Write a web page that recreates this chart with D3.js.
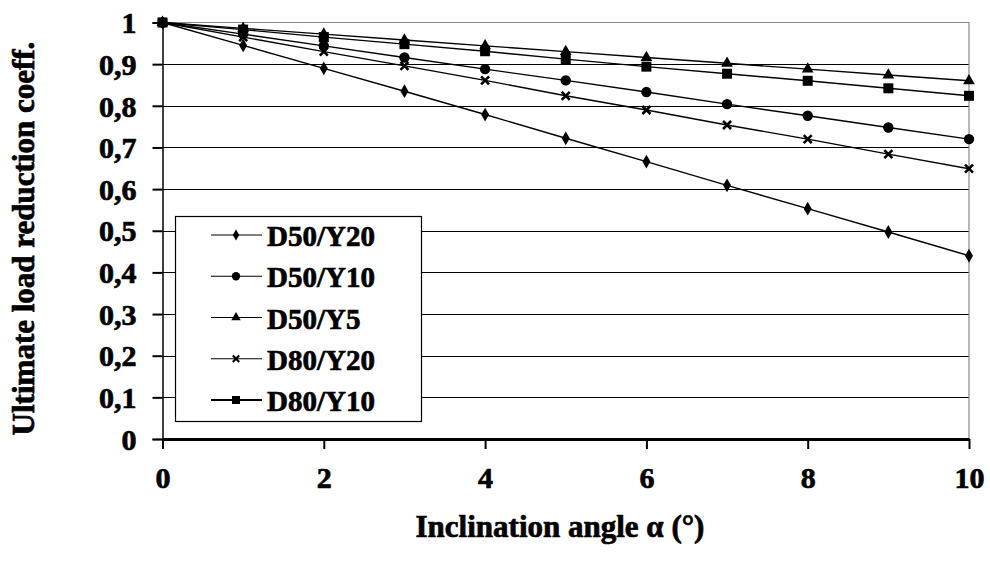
<!DOCTYPE html>
<html>
<head>
<meta charset="utf-8">
<script src="https://cdn.jsdelivr.net/npm/d3@7"></script>
<style>
  body { margin: 0; background: #fff; }
  text { font-family: "Liberation Serif", "Times New Roman", serif; font-weight: bold; fill: #000; stroke: #000; stroke-width: 0.7px; }
</style>
</head>
<body>
<svg id="chart" width="990" height="561"></svg>
<script>
// inclination angle (deg)
const angles = [0, 1, 2, 3, 4, 5, 6, 7, 8, 9, 10];
const seriesNames = ['D50/Y20', 'D50/Y10', 'D50/Y5', 'D80/Y20', 'D80/Y10'];
const seriesSymbols = ['diamond', 'circle', 'triangle', 'cross', 'square'];
const d50y20 = [1, 0.945, 0.89, 0.835, 0.779, 0.722, 0.666, 0.609, 0.553, 0.497, 0.44];
const d50y10 = [1, 0.972, 0.944, 0.916, 0.888, 0.861, 0.833, 0.804, 0.776, 0.748, 0.72];
const d50y5 = [1, 0.986, 0.972, 0.958, 0.944, 0.93, 0.916, 0.902, 0.888, 0.874, 0.86];
const d80y20 = [1, 0.965, 0.93, 0.896, 0.861, 0.824, 0.79, 0.754, 0.72, 0.684, 0.649];
const d80y10 = [1, 0.983, 0.965, 0.948, 0.931, 0.912, 0.894, 0.877, 0.86, 0.842, 0.824];
const yTicks = [0, 0.1, 0.2, 0.3, 0.4, 0.5, 0.6, 0.7, 0.8, 0.9, 1];
const xTicks = [0, 2, 4, 6, 8, 10];

const seriesValues = [d50y20, d50y10, d50y5, d80y20, d80y10];

const svg = d3.select('#chart');
const margin = {left: 162.5, top: 22.5, right: 969, bottom: 439};

const x = d3.scaleLinear().domain([0, 10]).range([margin.left, margin.right]);
const y = d3.scaleLinear().domain([0, 1]).range([margin.bottom, margin.top]);

// gridlines
svg.append('g')
    .selectAll('line')
    .data(yTicks.filter(d => d > 0 && d < 1))
    .join('line')
    .attr('x1', margin.left).attr('x2', margin.right)
    .attr('y1', d => Math.round(y(d)) + 0.5).attr('y2', d => Math.round(y(d)) + 0.5)
    .attr('stroke', '#000').attr('stroke-width', 1.2);

// plot frame (top + right, grey)
svg.append('path')
    .attr('d', 'M' + margin.left + ',' + margin.top + 'H' + margin.right + 'V' + margin.bottom)
    .attr('fill', 'none').attr('stroke', '#888').attr('stroke-width', 1.2);

// y axis
const yAxis = d3.axisLeft(y)
    .tickValues(yTicks)
    .tickSize(10)
    .tickPadding(16)
    .tickFormat(d => d3.format('.1~f')(d).replace('.', ','));
const gy = svg.append('g')
    .attr('transform', 'translate(' + margin.left + ',0)')
    .call(yAxis);
gy.select('.domain').attr('stroke', '#000').attr('stroke-width', 1.5);
gy.selectAll('.tick line').attr('stroke', '#000').attr('stroke-width', 2);
gy.selectAll('.tick text')
    .style('font-size', '30px')
    .attr('dy', '0.34em');

// x axis
const xAxis = d3.axisBottom(x)
    .tickValues(xTicks)
    .tickSize(10)
    .tickSizeOuter(0)
    .tickPadding(18);
const gx = svg.append('g')
    .attr('transform', 'translate(0,' + margin.bottom + ')')
    .call(xAxis);
gx.select('.domain').attr('stroke', '#000').attr('stroke-width', 3);
gx.selectAll('.tick line').attr('stroke', '#000').attr('stroke-width', 2);
gx.selectAll('.tick text')
    .style('font-size', '30px')
    .attr('dy', '0.71em');

// axis titles
svg.append('text')
    .attr('transform', 'translate(34,' + ((40 + 437) / 2) + ') rotate(-90)')
    .attr('text-anchor', 'middle')
    .style('font-size', '31px')
    .text('Ultimate load reduction coeff.');
svg.append('text')
    .attr('x', 560).attr('y', 537)
    .attr('text-anchor', 'middle')
    .style('font-size', '31px')
    .text('Inclination angle α (°)');

// marker drawing
function drawMarker(g, type, cx, cy) {
  if (type === 'diamond') {
    g.append('path').attr('d', d3.symbol(d3.symbolDiamond, 55)()).attr('transform', 'translate(' + cx + ',' + cy + ')').attr('fill', '#000');
  } else if (type === 'circle') {
    g.append('circle').attr('cx', cx).attr('cy', cy).attr('r', 5.2).attr('fill', '#000');
  } else if (type === 'triangle') {
    g.append('path').attr('d', d3.symbol(d3.symbolTriangle, 60)()).attr('transform', 'translate(' + cx + ',' + cy + ')').attr('fill', '#000');
  } else if (type === 'cross') {
    g.append('path').attr('d', 'M-4,-4L4,4M-4,4L4,-4').attr('transform', 'translate(' + cx + ',' + cy + ')')
        .attr('stroke', '#000').attr('stroke-width', 2.6).attr('fill', 'none');
  } else if (type === 'square') {
    g.append('rect').attr('x', cx - 5).attr('y', cy - 5).attr('width', 10).attr('height', 10).attr('fill', '#000');
  }
}

const line = d3.line().x((d, i) => x(angles[i])).y(d => y(d));

const plot = svg.append('g');
seriesValues.forEach(vals => {
  plot.append('path')
      .attr('d', line(vals))
      .attr('fill', 'none').attr('stroke', '#000').attr('stroke-width', 1.4);
});
seriesValues.forEach((vals, s) => {
  const mg = plot.append('g');
  vals.forEach((v, i) => drawMarker(mg, seriesSymbols[s], x(angles[i]), y(v)));
});

// legend
const legend = svg.append('g');
legend.append('rect')
    .attr('x', 175.5).attr('y', 216.5).attr('width', 246).attr('height', 205)
    .attr('fill', '#fff').attr('stroke', '#000').attr('stroke-width', 1.2);
const legendY = d3.scalePoint().domain(seriesNames).range([235, 400]);
seriesNames.forEach((name, s) => {
  const ly = legendY(name);
  legend.append('line')
      .attr('x1', 211).attr('x2', 262).attr('y1', ly).attr('y2', ly)
      .attr('stroke', '#000').attr('stroke-width', s === 4 ? 2 : 1.2);
  const mg = legend.append('g');
  // legend symbols are drawn a little smaller than the plot markers
  mg.attr('transform', 'translate(236,' + ly + ') scale(0.8)');
  drawMarker(mg, seriesSymbols[s], 0, 0);
  legend.append('text')
      .attr('x', 267).attr('y', ly + 11)
      .style('font-size', '29px')
      .text(name);
});
</script>
</body>
</html>
